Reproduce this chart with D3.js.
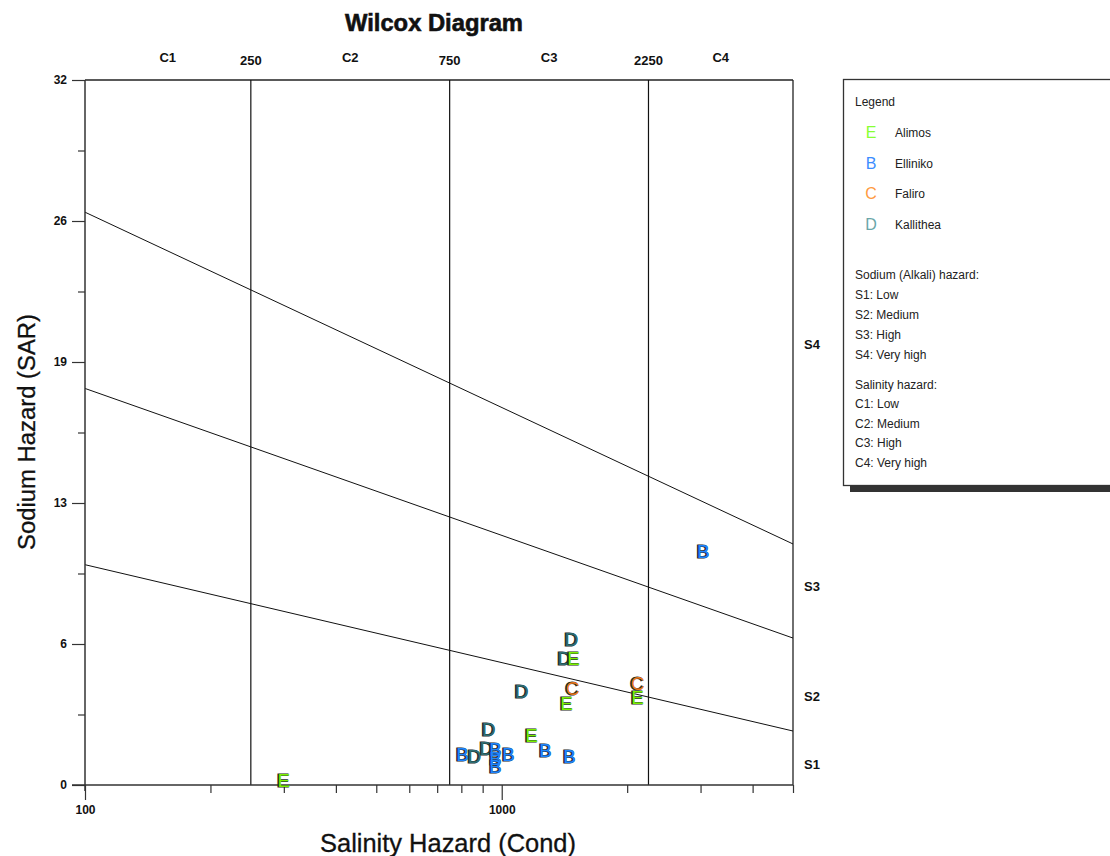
<!DOCTYPE html>
<html><head><meta charset="utf-8">
<script src="https://cdn.jsdelivr.net/npm/d3@7"></script>
<style>
html,body{margin:0;padding:0;background:#fff;}
svg{display:block;}
</style></head>
<body>
<svg id="chart" width="1110" height="856"></svg>
<script>
// ---------- data ----------
const seriesNames = ["Alimos", "Elliniko", "Faliro", "Kallithea"];
const seriesSymbols = ["E", "B", "C", "D"];
const seriesColors = ["#7cf000", "#1f85ff", "#f07818", "#2f6f73"];
const legendColors = ["#88ff33", "#3b8cff", "#ff9a40", "#6aa6a8"];

const alimosEC  = [300, 1180, 1432, 1488, 2119];
const alimosSAR = [0.23, 2.27, 3.72, 5.76, 3.99];

const ellinikoEC  = [3048, 806, 967, 967, 967, 1039, 1275, 1455];
const ellinikoSAR = [10.62, 1.41, 1.63, 1.23, 0.86, 1.41, 1.59, 1.32];

const faliroEC  = [1480, 2119];
const faliroSAR = [4.40, 4.63];

const kallitheaEC  = [931, 861, 920, 1472, 1416, 1117];
const kallitheaSAR = [2.54, 1.32, 1.68, 6.63, 5.76, 4.27];

const salinityBounds = [250, 750, 2250];
const salinityLabels = ["C1", "C2", "C3", "C4"];
const salinityLabelEC = [158, 433, 1299, 3354];

const sodiumLineEC = [100, 5000];
const sodiumLinesSAR = [[10, 2.45], [18, 6.67], [26, 10.94]];
const sodiumLabels = ["S1", "S2", "S3", "S4"];
const sodiumLabelSAR = [0.91, 3.99, 8.99, 19.97];

const yTickValues = [0, 6.4, 12.8, 19.2, 25.6, 32];
const yTickLabels = ["0", "6", "13", "19", "26", "32"];
const yMinorTicks = [3.2, 9.6, 16, 22.4, 28.8];
const xTickValues = [100, 1000];
const xTickLabels = ["100", "1000"];
const xMinorTicks = [200, 300, 400, 500, 600, 700, 800, 900, 2000, 3000, 4000, 5000];

const legendNotes = ["Sodium (Alkali) hazard:", "S1: Low", "S2: Medium", "S3: High", "S4: Very high",
                     "Salinity hazard:", "C1: Low", "C2: Medium", "C3: High", "C4: Very high"];

// ---------- chart ----------
const svg = d3.select("#chart");
const L = 85, R = 793, T = 80, B = 785;
const x = d3.scaleLog().domain([100, 5000]).range([L, R]);
const y = d3.scaleLinear().domain([0, 32]).range([B, T]);
const boldFont = "'Liberation Sans Narrow','Liberation Sans',Arial,sans-serif";
const regFont = "'Liberation Sans',Arial,sans-serif";

// Title
svg.append("text").attr("x", 434).attr("y", 31).attr("text-anchor", "middle")
  .attr("font-family", boldFont).attr("font-weight", "bold").attr("font-size", 24)
  .attr("textLength", 178).attr("lengthAdjust", "spacingAndGlyphs")
  .attr("stroke", "#111").attr("stroke-width", 0.6)
  .attr("fill", "#111").text("Wilcox Diagram");

// frame
svg.append("line").attr("x1", L).attr("x2", R).attr("y1", T).attr("y2", T).attr("stroke", "#222").attr("stroke-width", 1.3);
svg.append("line").attr("x1", R).attr("x2", R).attr("y1", T).attr("y2", B).attr("stroke", "#222").attr("stroke-width", 1.3);

// Salinity class vertical lines
svg.selectAll(".cline").data(salinityBounds).join("line")
  .attr("x1", d => x(d)).attr("x2", d => x(d)).attr("y1", T).attr("y2", B)
  .attr("stroke", "#111").attr("stroke-width", 1.2);
svg.selectAll(".cbound").data(salinityBounds).join("text")
  .attr("x", d => x(d)).attr("y", 65).attr("text-anchor", "middle")
  .attr("font-family", boldFont).attr("font-weight", "bold").attr("font-size", 13)
  .attr("fill", "#111").text(d => d);
svg.selectAll(".clab").data(salinityLabels).join("text")
  .attr("x", (d, i) => x(salinityLabelEC[i])).attr("y", 62).attr("text-anchor", "middle")
  .attr("font-family", boldFont).attr("font-weight", "bold").attr("font-size", 13)
  .attr("fill", "#111").text(d => d);

// Sodium lines
const lineGen = d3.line().x(d => x(d[0])).y(d => y(d[1]));
svg.selectAll(".sline").data(sodiumLinesSAR).join("path")
  .attr("d", d => lineGen(sodiumLineEC.map((e, i) => [e, d[i]])))
  .attr("fill", "none").attr("stroke", "#111").attr("stroke-width", 1);
svg.selectAll(".slab").data(sodiumLabels).join("text")
  .attr("x", 812).attr("y", (d, i) => y(sodiumLabelSAR[i]) + 4).attr("text-anchor", "middle")
  .attr("font-family", boldFont).attr("font-weight", "bold").attr("font-size", 13)
  .attr("fill", "#111").text(d => d);

// Y axis
const yAxis = svg.append("g").attr("transform", `translate(${L},0)`)
  .call(d3.axisLeft(y).tickValues(yTickValues).tickSize(13).tickPadding(5)
        .tickFormat((d, i) => yTickLabels[i]));
yAxis.select(".domain").attr("stroke", "#333").attr("stroke-width", 1.5).attr("d", `M0,${T}V${B + 6}`);
yAxis.selectAll(".tick line").attr("stroke", "#333").attr("stroke-width", 1.2);
yAxis.selectAll(".tick text").attr("font-family", boldFont).attr("font-weight", "bold")
  .attr("font-size", 12).attr("fill", "#111");
svg.append("g").attr("transform", `translate(${L},0)`)
  .call(d3.axisLeft(y).tickValues(yMinorTicks).tickSize(7).tickFormat(""))
  .call(g => g.select(".domain").remove())
  .selectAll("line").attr("stroke", "#333").attr("stroke-width", 1.2);

// X axis
const xAxis = svg.append("g").attr("transform", `translate(0,${B})`)
  .call(d3.axisBottom(x).tickValues(xTickValues).tickSize(15).tickPadding(5)
        .tickFormat((d, i) => xTickLabels[i]));
xAxis.select(".domain").attr("stroke", "#333").attr("stroke-width", 1.5).attr("d", `M${L - 13},0H${R}`);
xAxis.selectAll(".tick line").attr("stroke", "#333").attr("stroke-width", 1.2);
xAxis.selectAll(".tick text").attr("font-family", boldFont).attr("font-weight", "bold")
  .attr("font-size", 12).attr("fill", "#111");
svg.append("g").attr("transform", `translate(0,${B})`)
  .call(d3.axisBottom(x).tickValues(xMinorTicks).tickSize(8).tickFormat(""))
  .call(g => g.select(".domain").remove())
  .selectAll("line").attr("stroke", "#333").attr("stroke-width", 1.2);

// Axis titles
svg.append("text").attr("x", 448).attr("y", 852).attr("text-anchor", "middle")
  .attr("font-family", regFont).attr("font-size", 25)
  .attr("textLength", 256).attr("lengthAdjust", "spacingAndGlyphs")
  .attr("stroke", "#111").attr("stroke-width", 0.3)
  .attr("fill", "#111").text("Salinity Hazard (Cond)");
svg.append("text").attr("transform", "translate(35,432) rotate(-90)").attr("text-anchor", "middle")
  .attr("font-family", regFont).attr("font-size", 23)
  .attr("textLength", 236).attr("lengthAdjust", "spacingAndGlyphs")
  .attr("stroke", "#111").attr("stroke-width", 0.3)
  .attr("fill", "#111").text("Sodium Hazard (SAR)");

// Points
const allSeries = [
  {ec: alimosEC, sar: alimosSAR},
  {ec: ellinikoEC, sar: ellinikoSAR},
  {ec: faliroEC, sar: faliroSAR},
  {ec: kallitheaEC, sar: kallitheaSAR}
];
const order = [3, 1, 0, 2];
order.forEach(si => {
  const s = allSeries[si];
  const pts = s.ec.map((e, i) => ({ec: e, sar: s.sar[i]}));
  const g = svg.append("g");
  g.selectAll(".sh").data(pts).join("text")
    .attr("x", d => x(d.ec) - 1).attr("y", d => y(d.sar) + 7)
    .attr("text-anchor", "middle").attr("font-family", regFont).attr("font-size", 19)
    .attr("fill", "#1d2b2b").attr("stroke", "#1d2b2b").attr("stroke-width", 1.2)
    .text(seriesSymbols[si]);
  g.selectAll(".pt").data(pts).join("text")
    .attr("x", d => x(d.ec)).attr("y", d => y(d.sar) + 7)
    .attr("text-anchor", "middle").attr("font-family", regFont).attr("font-size", 19)
    .attr("fill", seriesColors[si])
    .text(seriesSymbols[si]);
});

// Legend
svg.append("rect").attr("x", 850).attr("y", 86).attr("width", 280).attr("height", 406).attr("fill", "#333");
svg.append("rect").attr("x", 843.5).attr("y", 79.5).attr("width", 280).attr("height", 406)
  .attr("fill", "#fff").attr("stroke", "#333").attr("stroke-width", 1.3);
svg.append("text").attr("x", 855).attr("y", 106).attr("font-family", regFont).attr("font-size", 12)
  .attr("fill", "#222").text("Legend");
const lg = svg.selectAll(".lg").data(seriesNames).join("g")
  .attr("transform", (d, i) => `translate(0,${132 + i * 30.5})`);
lg.append("text").attr("x", 871).attr("y", 6).attr("text-anchor", "middle")
  .attr("font-family", regFont).attr("font-size", 16)
  .attr("fill", (d, i) => legendColors[i]).text((d, i) => seriesSymbols[i]);
lg.append("text").attr("x", 895).attr("y", 5).attr("font-family", regFont).attr("font-size", 12)
  .attr("fill", "#222").text(d => d);
const noteY = [279, 299, 319, 339, 359, 389, 408, 428, 447, 467];
svg.selectAll(".note").data(legendNotes).join("text")
  .attr("x", 855).attr("y", (d, i) => noteY[i]).attr("font-family", regFont).attr("font-size", 12)
  .attr("fill", "#222").text(d => d);
</script>
</body></html>
